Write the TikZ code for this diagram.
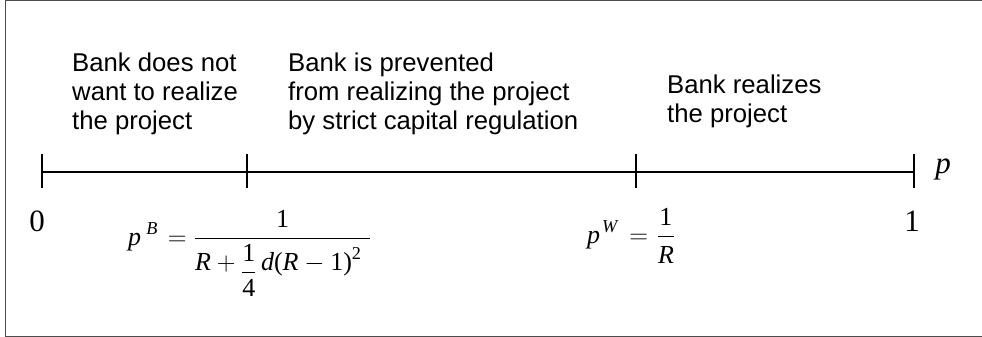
\RequirePackage{fix-cm}
\documentclass[tikz,border=0pt]{standalone}
\usepackage{amsmath}
\usepackage{fontspec}
\newfontfamily\arial{Liberation Sans}
\newfontfamily\tms{Liberation Serif}
\newcommand\mv[1]{\text{\tms\itshape #1}}
\newcommand\mn[1]{\text{\tms #1}}
\begin{document}
\begin{tikzpicture}[x=1pt,y=-1pt,
  framestyle/.style={draw=black!70,line width=1.2pt},
  axisline/.style={line width=1.3pt},
  tickline/.style={line width=1.3pt},
  region/.style={inner sep=0pt,anchor=base west,align=left,
    font=\arial\fontsize{25.7}{29}\selectfont},
  endlabel/.style={inner sep=0pt,anchor=base,font=\tms\fontsize{31}{34}\selectfont},
  formula/.style={inner sep=0pt,anchor=base west,font=\fontsize{26}{30}\selectfont}]
\useasboundingbox (0,0) rectangle (982,337);
\fill[white] (0,0) rectangle (982,337);
% frame (open to the right, beyond the picture)
\draw[framestyle] (995,0.8) -- (5.5,0.8) -- (5.5,336.2) -- (995,336.2);
% axis
\coordinate (a0) at (42,172);
\coordinate (aB) at (247,172);
\coordinate (aW) at (636,172);
\coordinate (a1) at (914,172);
\draw[axisline] (a0) -- (a1);
\foreach \c in {a0,aB,aW,a1}
  \draw[tickline] ([yshift=18pt]\c) -- ([yshift=-16pt]\c);
% region texts (base anchor = last line's baseline)
\node[region] (t1) at (72,129) {Bank does not\\want to realize\\the project};
\node[region] (t2) at (288,129) {Bank is prevented\\from realizing the project\\by strict capital regulation};
\node[region] (t3) at (667,122) {Bank realizes\\the project};
% end labels
\node[endlabel] (l0) at (37,231) {0};
\node[endlabel] (l1) at (912,231) {1};
\node[endlabel] (lp) at (943,173) {\itshape p};
% thresholds
\node[formula] (pB) at (128,245) {$\displaystyle \mv{p}^{\mkern5mu\mv{B}}\mkern2mu = \frac{\mn{1}}{\rule{0pt}{29pt}\mv{R}+\raisebox{-8pt}{$\dfrac{\mn{1}}{\mn{4}}$}\,\mv{d}\text{\tms(}\mv{R}-\mn{1}\text{\tms)}^{\mn{2}}\mkern6mu}$};
\node[formula] (pW) at (587,243) {$\displaystyle \mv{p}^{\mkern2mu\mv{W}}\mkern3mu = \mkern1mu\frac{\mn{1}}{\rule{0pt}{24pt}\mv{R}}$};
\end{tikzpicture}
\end{document}
